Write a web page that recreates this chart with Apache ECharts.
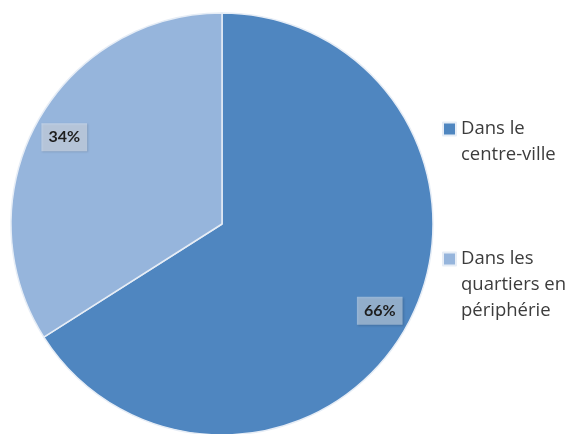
<!DOCTYPE html>
<html>
<head>
<meta charset="utf-8">
<script src="https://cdn.jsdelivr.net/npm/echarts@6/dist/echarts.min.js"></script>
<style>html,body{margin:0;padding:0;background:#fff;}#c{width:577px;height:434px;}</style>
</head>
<body>
<div id="c"></div>
<script>
var categories = ["Dans le centre-ville", "Dans les quartiers en périphérie"];
var legendLabels = ["Dans le\ncentre-ville", "Dans les\nquartiers en\npériphérie"];
var values = [66, 34];
var colors = ["#4f86c0", "#96b5dc"];

var pieData = categories.map(function (n, i) {
  return { name: n, value: values[i], itemStyle: { color: colors[i] } };
});
var labelData = categories.map(function (n, i) {
  return { name: n, value: values[i] };
});

var chart = echarts.init(document.getElementById('c'));
var FONT = 'Lato';
var LEGEND_FONT = 'Open Sans';
var LH = 26;
function legendFor(i, top) {
  var lines = legendLabels[i].split('\n');
  var pre = [];
  for (var k = 1; k < lines.length; k++) pre.push(' ');
  var txt = pre.concat(lines).join('\n');
  return {
    orient: 'vertical',
    left: 442,
    top: top,
    padding: 0,
    icon: 'rect',
    itemWidth: 13,
    itemHeight: 13,
    selectedMode: false,
    formatter: function () { return txt; },
    textStyle: {
      fontFamily: LEGEND_FONT,
      fontSize: 18.5,
      color: '#3c3c3c',
      lineHeight: LH
    },
    data: [categories[i]]
  };
}
chart.setOption({
  animation: false,
  backgroundColor: '#ffffff',
  legend: [legendFor(0, 90), legendFor(1, 194)],
  series: [
    {
      type: 'pie',
      center: [222, 224],
      radius: 211,
      startAngle: 90,
      clockwise: true,
      label: { show: false },
      labelLine: { show: false },
      itemStyle: { borderColor: '#e6edf6', borderWidth: 1.5 },
      emphasis: { disabled: true },
      data: pieData
    },
    {
      type: 'pie',
      center: [222, 224],
      radius: [143, 211],
      startAngle: 90,
      clockwise: true,
      silent: true,
      itemStyle: { color: 'rgba(0,0,0,0)' },
      label: {
        show: true,
        position: 'inside',
        formatter: '{c}%',
        fontFamily: FONT,
        fontSize: 16,
        fontWeight: 'bold',
        color: '#1e1e1e',
        backgroundColor: 'rgba(255,255,255,0.42)',
        padding: [7, 7, 5, 7],
        shadowColor: 'rgba(0,0,0,0.35)',
        shadowBlur: 2,
        shadowOffsetX: 1,
        shadowOffsetY: 1,
        textShadowColor: 'transparent'
      },
      labelLine: { show: false },
      emphasis: { disabled: true },
      data: labelData
    }
  ]
});
</script>
</body>
</html>
